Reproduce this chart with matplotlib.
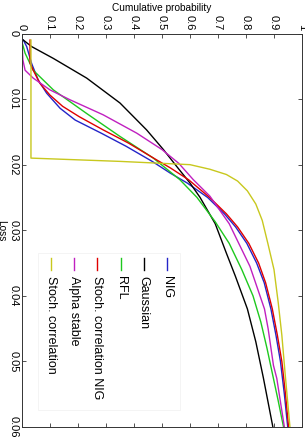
import matplotlib
matplotlib.use("Agg")
import matplotlib.pyplot as plt
from matplotlib.patches import Rectangle

plt.rcParams['font.family'] = ['Liberation Sans', 'DejaVu Sans']

# loss levels and cumulative probabilities
nig_loss = [0.001, 0.002, 0.0046, 0.0071, 0.0091, 0.0114, 0.0132, 0.0152, 0.0172,
            0.0195, 0.0213, 0.0228, 0.025, 0.0275, 0.0295, 0.032, 0.035, 0.038,
            0.042, 0.046, 0.050, 0.055, 0.060]
nig_prob = [0.0046, 0.0168, 0.0346, 0.058, 0.088, 0.136, 0.19, 0.283, 0.372,
            0.465, 0.53, 0.59, 0.663, 0.723, 0.763, 0.803, 0.838, 0.865,
            0.889, 0.907, 0.923, 0.937, 0.949]

gauss_loss = [0.001, 0.002, 0.0038, 0.0068, 0.0106, 0.0147, 0.0177, 0.0203, 0.0228,
              0.025, 0.029, 0.0335, 0.037, 0.042, 0.047, 0.0525, 0.060]
gauss_prob = [0.0046, 0.0346, 0.112, 0.231, 0.35, 0.445, 0.505, 0.553, 0.60,
              0.636, 0.69, 0.73, 0.762, 0.805, 0.835, 0.862, 0.896]

rfl_loss = [0.0013, 0.003, 0.0056, 0.0086, 0.0122, 0.0157, 0.019, 0.0223, 0.025,
            0.0287, 0.032, 0.036, 0.040, 0.044, 0.048, 0.052, 0.056, 0.060]
rfl_prob = [0.0, 0.011, 0.040, 0.112, 0.231, 0.35, 0.469, 0.564, 0.625,
            0.69, 0.74, 0.785, 0.825, 0.853, 0.875, 0.895, 0.915, 0.934]

scnig_loss = [0.001, 0.0045, 0.0056, 0.0076, 0.0094, 0.0111, 0.0127, 0.0147, 0.0167,
              0.019, 0.0205, 0.0223, 0.025, 0.0275, 0.0295, 0.032, 0.035, 0.038,
              0.042, 0.046, 0.050, 0.055, 0.060]
scnig_prob = [0.0286, 0.0286, 0.040, 0.064, 0.10, 0.145, 0.205, 0.29, 0.38,
              0.47, 0.53, 0.595, 0.67, 0.73, 0.77, 0.81, 0.845, 0.87,
              0.894, 0.912, 0.928, 0.941, 0.952]

alpha_loss = [0.001, 0.004, 0.0056, 0.0068, 0.0086, 0.0101, 0.0124, 0.0152, 0.0177,
              0.0198, 0.0223, 0.0248, 0.029, 0.0355, 0.042, 0.045, 0.0506, 0.0526,
              0.060]
alpha_prob = [0.0, 0.003, 0.011, 0.040, 0.10, 0.171, 0.29, 0.41, 0.50,
              0.56, 0.612, 0.671, 0.74, 0.814, 0.866, 0.879, 0.898, 0.91,
              0.937]

sc_loss = [0.001, 0.019, 0.0195, 0.020, 0.0207, 0.0215, 0.0225, 0.024, 0.026,
           0.0285, 0.032, 0.036, 0.041, 0.046, 0.052, 0.060]
sc_prob = [0.032, 0.032, 0.35, 0.60, 0.671, 0.73, 0.77, 0.805, 0.835,
           0.858, 0.878, 0.90, 0.915, 0.928, 0.94, 0.957]

series = [
    ("NIG", nig_loss, nig_prob, "#2424c8"),
    ("Gaussian", gauss_loss, gauss_prob, "#000000"),
    ("RFL", rfl_loss, rfl_prob, "#1ec81e"),
    ("Stoch. correlation NIG", scnig_loss, scnig_prob, "#e00000"),
    ("Alpha stable", alpha_loss, alpha_prob, "#c020c0"),
    ("Stoch. correlation", sc_loss, sc_prob, "#c8c81e"),
]

prob_ticks = [0, 0.1, 0.2, 0.3, 0.4, 0.5, 0.6, 0.7, 0.8, 0.9, 1]
prob_labels = ["0", "0.1", "0.2", "0.3", "0.4", "0.5", "0.6", "0.7", "0.8", "0.9", "1"]
loss_ticks = [0, 0.01, 0.02, 0.03, 0.04, 0.05, 0.06]
loss_labels = ["0", "0.01", "0.02", "0.03", "0.04", "0.05", "0.06"]

fig = plt.figure(figsize=(3.05, 4.41), dpi=100)
ax = fig.add_axes([22 / 305, 14 / 441, 280 / 305, 393.5 / 441])

# chart is drawn turned a quarter clockwise: probability across, loss down
for name, loss, prob, col in series:
    ax.plot(prob, loss, color=col, lw=1.0)

ax.set_xlim(0, 1)
ax.set_ylim(0.06, 0)
ax.xaxis.tick_top()
ax.set_xticks(prob_ticks, prob_labels, rotation=-90, ha="center", va="bottom")
ax.set_yticks(loss_ticks, loss_labels, rotation=-90, ha="right", va="center")
ax.tick_params(which="both", direction="in", top=True, bottom=True, left=True,
               right=True, labeltop=True, labelbottom=False, length=3,
               width=0.6, pad=2.5, labelsize=8, color="#333333")
for s in ax.spines.values():
    s.set_color("#333333")
    s.set_linewidth(0.7)

ax.set_xlabel("Cumulative probability", fontsize=7.3)
ax.xaxis.set_label_position("top")
ax.xaxis.set_label_coords(0.5, 1.064)
ax.xaxis.label.set_va("center")
ax.set_ylabel("Loss", fontsize=7.3, rotation=-90, ha="center", va="center")
ax.yaxis.set_label_coords(-0.075, 0.5)

# hand made legend, turned like the rest
ax.add_patch(Rectangle((0.057, 0.043), 0.507, 0.40, transform=ax.transAxes,
                       facecolor="white", edgecolor="#f2f2f2", lw=0.6, zorder=3))
x0 = 0.518
for i, (name, loss, prob, col) in enumerate(series):
    xx = x0 - i * 0.0828
    ax.plot([xx, xx], [0.430, 0.399], color=col, lw=1.0,
            transform=ax.transAxes, zorder=4)
    ax.text(xx, 0.385, name, rotation=-90, ha="center", va="top",
            fontsize=9, transform=ax.transAxes, zorder=4)

fig.savefig("out.png", dpi=100)
